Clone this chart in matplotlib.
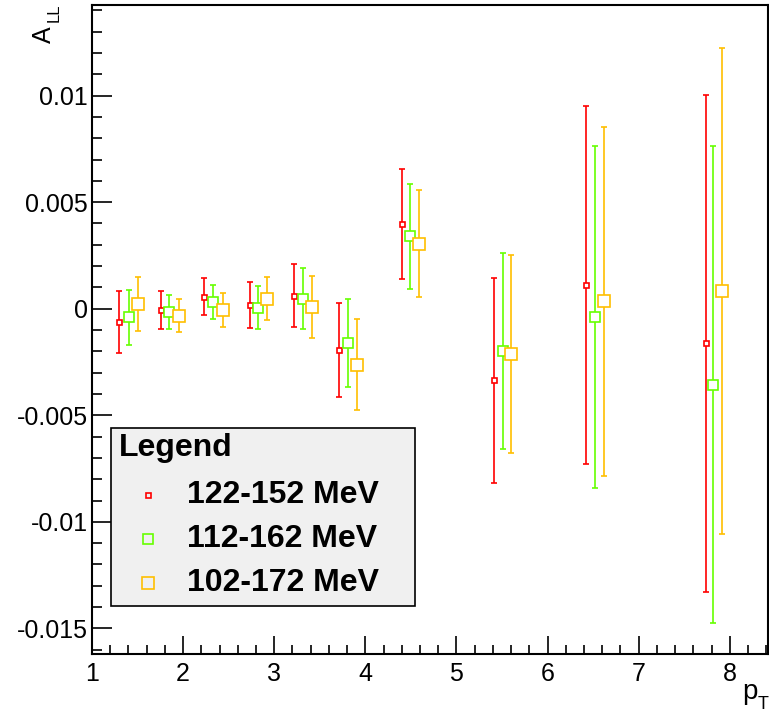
import matplotlib
matplotlib.use("Agg")
import matplotlib.pyplot as plt
from matplotlib.patches import Rectangle
from matplotlib.lines import Line2D
from matplotlib.ticker import MultipleLocator, FixedLocator

plt.rcParams['font.family'] = ['Liberation Sans', 'DejaVu Sans']

# ---- data ----
labels = ["122-152 MeV", "112-162 MeV", "102-172 MeV"]
colors = ["#ff0000", "#66ff00", "#ffbf00"]
marker_sizes = [3.6, 6.5, 8.6]

x_red = [1.30, 1.76, 2.23, 2.73, 3.22, 3.71, 4.40, 5.41, 6.42, 7.74]
x_green = [1.41, 1.85, 2.33, 2.82, 3.32, 3.81, 4.49, 5.51, 6.52, 7.82]
x_orange = [1.51, 1.96, 2.44, 2.92, 3.42, 3.91, 4.59, 5.60, 6.62, 7.92]

y_red = [-0.00064, -0.00006, 0.00057, 0.00017, 0.00062, -0.00194, 0.00398, -0.00336, 0.00111, -0.00162]
y_green = [-0.00041, -0.00017, 0.00031, 0.00005, 0.00047, -0.00161, 0.00339, -0.00199, -0.00039, -0.00357]
y_orange = [0.00022, -0.00033, -0.00006, 0.00047, 0.00008, -0.00262, 0.00305, -0.00212, 0.00035, 0.00084]

e_red = [0.00146, 0.00088, 0.00085, 0.00107, 0.00150, 0.00219, 0.00258, 0.00480, 0.00839, 0.01167]
e_green = [0.00130, 0.00080, 0.00078, 0.00100, 0.00142, 0.00208, 0.00247, 0.00459, 0.00804, 0.01119]
e_orange = [0.00128, 0.00078, 0.00078, 0.00100, 0.00145, 0.00212, 0.00250, 0.00466, 0.00818, 0.01140]

y_tick_values = [-0.015, -0.01, -0.005, 0, 0.005, 0.01]
y_tick_labels = ["-0.015", "-0.01", "-0.005", "0", "0.005", "0.01"]

xs = [x_red, x_green, x_orange]
ys = [y_red, y_green, y_orange]
es = [e_red, e_green, e_orange]

W, H = 769, 715
fig = plt.figure(figsize=(W / 100, H / 100), dpi=100)

def fx(px):
    return px / W

def fy(py):
    return 1 - py / H

ax = fig.add_axes([fx(92), fy(654), fx(768) - fx(92), fy(5) - fy(654)])

for x, y, e, c, ms in zip(xs, ys, es, colors, marker_sizes):
    ax.errorbar(x, y, yerr=e, fmt='s', color=c, ecolor=c, mfc='white', mec=c,
                ms=ms, mew=1.2, elinewidth=1.2, capsize=2.2, capthick=1.2)

ax.set_xlim(1.0, 8.42)
ax.set_ylim(-0.0162, 0.01425)

ax.xaxis.set_major_locator(MultipleLocator(1))
ax.xaxis.set_minor_locator(MultipleLocator(0.2))
ax.yaxis.set_major_locator(FixedLocator(y_tick_values))
ax.yaxis.set_minor_locator(MultipleLocator(0.001))
ax.set_yticklabels(y_tick_labels)

ax.tick_params(axis='both', which='both', direction='in', top=False, right=False,
               labelsize=18, color='black', width=1.2)
ax.tick_params(axis='y', which='major', length=14.4, pad=3)
ax.tick_params(axis='y', which='minor', length=7.2)
ax.tick_params(axis='x', which='major', length=12.7, pad=6)
ax.tick_params(axis='x', which='minor', length=6.5)
for s in ax.spines.values():
    s.set_linewidth(1.5)

# axis titles (ROOT style)
fig.text(fx(44), fy(43), "A", rotation=90, ha='center', va='bottom', fontsize=18)
fig.text(fx(54), fy(22), "LL", rotation=90, ha='center', va='bottom', fontsize=12)
fig.text(fx(742), fy(699), "p", ha='left', va='baseline', fontsize=20)
fig.text(fx(758), fy(709), "T", ha='left', va='baseline', fontsize=13)

# legend box
fig.patches.append(Rectangle((fx(111), fy(606)), fx(415) - fx(111), fy(428) - fy(606),
                             transform=fig.transFigure, facecolor='#f0f0f0',
                             edgecolor='black', linewidth=1.2, zorder=5))
fig.text(fx(119), fy(448), "Legend", fontsize=23, fontweight='bold', ha='left', va='center', zorder=6)
rows = [495, 539, 583]
for lab, c, ms, ry in zip(labels, colors, marker_sizes, rows):
    fig.lines.append(Line2D([fx(148)], [fy(ry)], transform=fig.transFigure, marker='s',
                            ms=ms, mfc='none', mec=c, mew=1.2, ls='none', zorder=6))
    fig.text(fx(187), fy(ry), lab, fontsize=23, fontweight='bold', ha='left', va='center', zorder=6)

fig.savefig("out.png", dpi=100)
